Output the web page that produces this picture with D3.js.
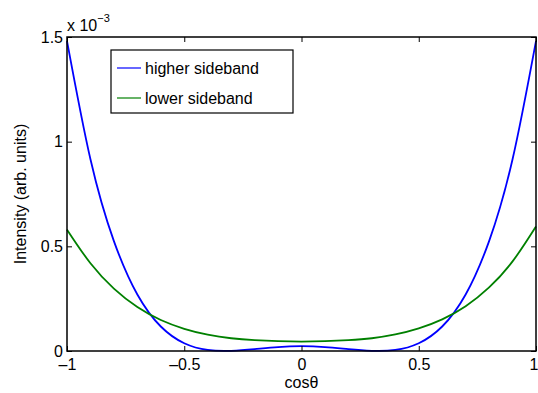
<!DOCTYPE html>
<html>
<head>
<meta charset="utf-8">
<script src="https://d3js.org/d3.v7.min.js"></script>
<style>
  body { margin: 0; background: #fff; }
  text { font-family: "Liberation Sans", Arial, sans-serif; fill: #000; }
</style>
</head>
<body>
<svg width="538" height="393"></svg>
<script>
// cos(theta) sample points
const xs = [-1, -0.9, -0.8, -0.7, -0.6, -0.5, -0.4, -0.3, -0.2, -0.1, 0,
            0.1, 0.2, 0.3, 0.4, 0.5, 0.6, 0.7, 0.8, 0.9, 1];
// intensity in units of 1e-3
const higher = [1.481, 0.916, 0.525, 0.270, 0.117, 0.037, 0.005, 0.001, 0.009, 0.019, 0.023,
                0.019, 0.009, 0.001, 0.005, 0.037, 0.117, 0.270, 0.525, 0.916, 1.481];
const lower = [0.580, 0.419, 0.298, 0.210, 0.148, 0.106, 0.078, 0.061, 0.052, 0.047, 0.045,
               0.047, 0.052, 0.061, 0.079, 0.108, 0.151, 0.214, 0.304, 0.428, 0.595];
const xTicks = [-1, -0.5, 0, 0.5, 1];
const yTicks = [0, 0.5, 1, 1.5];
const seriesNames = ["higher sideband", "lower sideband"];
const seriesColors = ["#0000ff", "#008000"];

const svg = d3.select("svg");
const mL = 67, mR = 536, mT = 37, mB = 351;

const x = d3.scaleLinear().domain([-1, 1]).range([mL, mR]);
const y = d3.scaleLinear().domain([0, 1.5]).range([mB, mT]);

// curves
const line = d3.line().x(d => x(d[0])).y(d => y(d[1])).curve(d3.curveNatural);
[higher, lower].forEach((vals, i) => {
  svg.append("path")
    .datum(xs.map((v, j) => [v, vals[j]]))
    .attr("d", line)
    .attr("fill", "none")
    .attr("stroke", seriesColors[i])
    .attr("stroke-width", 1.8);
});

// axes (box with inward ticks)
const fmt = d => String(d).replace("-", "\u2013");
svg.append("g").attr("transform", "translate(0," + mB + ")")
  .call(d3.axisBottom(x).tickValues(xTicks).tickSizeInner(-5).tickSizeOuter(0).tickPadding(8).tickFormat(fmt))
  .call(g => g.select(".domain").remove())
  .call(g => g.selectAll(".tick:last-of-type text").attr("text-anchor", "end").attr("dx", 2));
svg.append("g").attr("transform", "translate(0," + mT + ")")
  .call(d3.axisTop(x).tickValues(xTicks).tickSizeInner(-5).tickSizeOuter(0).tickFormat(""))
  .call(g => g.select(".domain").remove());
svg.append("g").attr("transform", "translate(" + mL + ",0)")
  .call(d3.axisLeft(y).tickValues(yTicks).tickSizeInner(-5).tickSizeOuter(0).tickPadding(4).tickFormat(fmt))
  .call(g => g.select(".domain").remove());
svg.append("g").attr("transform", "translate(" + mR + ",0)")
  .call(d3.axisRight(y).tickValues(yTicks).tickSizeInner(-5).tickSizeOuter(0).tickFormat(""))
  .call(g => g.select(".domain").remove());
svg.selectAll(".tick text").attr("font-size", 16).attr("font-family", null);
svg.selectAll(".tick line").attr("stroke", "#000");

svg.append("rect")
  .attr("x", mL).attr("y", mT).attr("width", mR - mL).attr("height", mB - mT)
  .attr("fill", "none").attr("stroke", "#000").attr("stroke-width", 1.5);

// exponent
const ex = svg.append("text").attr("x", mL).attr("y", mT - 6).attr("font-size", 16);
ex.append("tspan").text("x 10");
ex.append("tspan").attr("dy", -9).attr("font-size", 11).text("\u22123");

// axis labels
svg.append("text").attr("x", (mL + mR) / 2).attr("y", 388)
  .attr("text-anchor", "middle").attr("font-size", 16).text("cos\u03b8");
svg.append("text").attr("transform", "translate(26," + (mT + mB) / 2 + ") rotate(-90)")
  .attr("text-anchor", "middle").attr("font-size", 16).text("Intensity (arb. units)");

// legend
const lg = svg.append("g").attr("transform", "translate(111,50)");
lg.append("rect").attr("width", 182).attr("height", 63)
  .attr("fill", "#fff").attr("stroke", "#000").attr("stroke-width", 1.2);
seriesNames.forEach((n, i) => {
  const yy = 18 + i * 30;
  lg.append("line").attr("x1", 6).attr("x2", 30).attr("y1", yy).attr("y2", yy)
    .attr("stroke", seriesColors[i]).attr("stroke-width", 1.2);
  lg.append("text").attr("x", 34).attr("y", yy + 6).attr("font-size", 16).text(n);
});
</script>
</body>
</html>
